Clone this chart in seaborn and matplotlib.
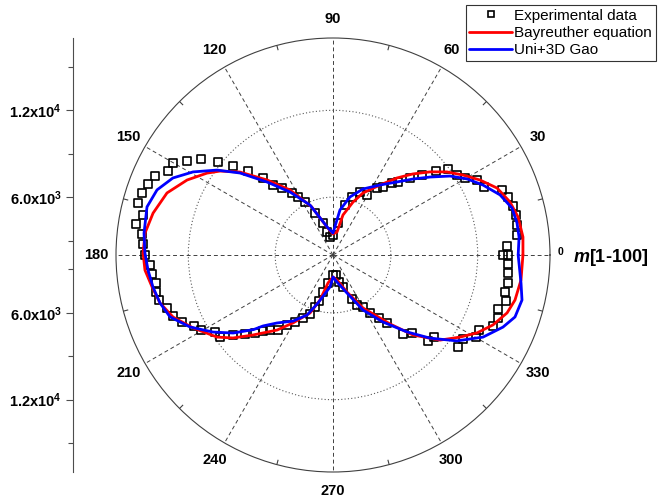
import numpy as np
import matplotlib
matplotlib.use("Agg")
import matplotlib.pyplot as plt
from matplotlib.lines import Line2D
import seaborn as sns

# ---------------- data (angle in degrees, radial value) ----------------
exp_angle = [0, 3.0, 6.2, 9.3, 12.3, 15.2, 18.3, 21.0, 24.2, 27.5, 30.3, 32.8, 36.8, 39.2, 42.0, 45.0,
             48.3, 50.7, 53.7, 56.7, 60.5, 66.8, 71.9, 76.5, 81.0, 90.0,
             99.5, 104.6, 107.4, 113.2, 117.8, 121.1, 123.5, 127.3, 130.6, 132.3, 135.3, 138.3, 141.0,
             144.0, 147.2, 150.1, 153.0, 156.1, 159.0, 162.0, 165.1, 168.1, 171.1, 173.7, 176.7, 180.0,
             183.1, 186.0, 189.0, 191.8, 194.5, 197.7, 200.9, 203.9, 207.1, 209.6, 213.1, 216.0, 218.7,
             221.9, 225.0, 227.4, 230.0, 233.7, 236.7, 240.4, 244.5, 248.7, 250.9, 253.1, 254.9, 259.9, 270.0,
             278.5, 282.5, 287.4, 293.4, 295.6, 300.0, 302.5, 306.1, 308.5, 311.5, 315.4, 317.8, 320.9,
             323.6, 327.1, 330.2, 332.8, 336.1, 339.1, 341.9, 345.1, 347.9, 350.9, 354.1, 357.1, 360.0]
exp_value = [13750, 14040, 14790, 14880, 14950, 14900, 14740, 14520, 13440, 13220, 12560, 12200, 11920, 11190,
             10270, 9530, 8750, 8430, 7830, 7540, 6770, 6740, 6220, 5550, 4240, 3380,
             3260, 3640, 4320, 5160, 6140, 6680, 7140, 7820, 8370, 9190, 10260, 11250, 12220, 13280, 14000,
             14760, 14800, 15460, 15700, 15880, 15950, 15420, 15780, 15280, 15150, 15000,
             14670, 14580, 14390, 14500, 14420, 14040, 13830, 13420, 12790, 12490, 11740, 11650, 10850,
             10180, 9620, 9140, 8770, 8430, 7790, 7320, 6820, 6380, 5800, 5320, 4650, 3960, 3380,
             3400, 3910, 4320, 5310, 5830, 6150, 6760, 7390, 8000, 9300, 9670, 10860, 10990, 12730, 12700,
             13390, 13340, 14100, 14210, 14000, 14370, 14160, 14250, 14160, 14110, 14100]

bay_angle = [0, 5.4, 11.6, 16.7, 22.2, 27.0, 31.6, 36.1, 40.6, 45.4, 50.3, 56.1, 64.2, 69.3, 76.0, 80.1,
             90.0, 102.1, 114.0, 123.5, 131.3, 138.3, 143.4, 147.0, 152.8, 159.5, 166.9, 173.3, 179.4,
             184.6, 190.0, 195.5, 201.2, 207.5, 215.3, 219.7, 225.0, 233.3, 239.5, 248.4, 253.9, 259.9,
             270.0, 279.1, 290.7, 299.5, 309.6, 315.0, 321.5, 327.1, 331.6, 336.4, 341.6, 346.1, 352.4, 360.0]
bay_value = [15130, 15190, 15060, 14770, 14250, 13410, 12550, 11750, 10830, 9870, 8920, 7830, 6760, 5910,
             4850, 3610, 3450, 3980, 5660, 7390, 8900, 10620, 11730, 12390, 13340, 14250, 14770, 15080, 15130,
             15040, 14700, 14410, 13860, 12910, 11820, 10980, 9820, 8470, 7450, 6310, 5240, 3960,
             3520, 3750, 4740, 6210, 8190, 9820, 11450, 12450, 13320, 14070, 14680, 14960, 15110, 15130]

gao_angle = [0, 5.5, 9.9, 14.7, 19.8, 25.0, 29.6, 34.0, 38.8, 43.5, 48.8, 56.1, 65.6, 73.7, 81.2, 90.0,
             100.5, 114.7, 124.3, 132.1, 138.6, 143.8, 149.3, 154.3, 159.7, 165.5, 173.4, 179.4,
             184.6, 190.1, 195.5, 200.8, 206.7, 212.7, 218.0, 223.2, 225.4, 230.5, 238.8, 246.6, 252.6,
             264.6, 270.0, 278.4, 290.2, 298.6, 306.7, 313.9, 319.4, 325.3, 331.3, 337.0, 341.2, 346.6,
             351.5, 360.0]
gao_value = [14800, 14920, 14910, 14790, 14270, 13440, 12650, 11760, 10600, 9630, 8710, 7830, 7010, 6180,
             5150, 3520, 3900, 5800, 7270, 8800, 10570, 11940, 13250, 14280, 14970, 15280, 15150, 15000,
             14830, 14640, 14410, 14050, 13070, 11860, 10760, 9530, 8890, 8090, 7340, 6520, 5480,
             4220, 3520, 3890, 4800, 6330, 7780, 9380, 10830, 12430, 13820, 14760, 15290, 15430,
             15140, 14800]

angle_ticks = [0, 30, 60, 90, 120, 150, 180, 210, 240, 270, 300, 330]
angle_labels = ["", "30", "60", "90", "120", "150", "180", "210", "240", "270", "300", "330"]
angle_minor = [15, 45, 75, 105, 135, 165, 195, 225, 255, 285, 315, 345]
r_min, r_max = 2000, 17000
r_grid = [6000, 12000]
left_major = [12000, 6000]
left_major_labels = [r"1.2x10$^4$", r"6.0x10$^3$"]
left_minor = [15000, 9000, 3000]
legend_labels = ["Experimental data", "Bayreuther equation", "Uni+3D Gao"]

# ---------------- style ----------------
sns.set_style("white")
plt.rcParams["font.family"] = ["Liberation Sans", "DejaVu Sans"]
plt.rcParams["mathtext.fontset"] = "custom"
plt.rcParams["mathtext.rm"] = "Liberation Sans:bold"
plt.rcParams["mathtext.it"] = "Liberation Sans:italic:bold"
plt.rcParams["mathtext.bf"] = "Liberation Sans:bold"
for k in ["text.color", "axes.labelcolor", "xtick.color", "ytick.color"]:
    plt.rcParams[k] = "black"

W, H = 658, 498
fig = plt.figure(figsize=(W / 100, H / 100), dpi=100)
rect = [116 / W, 26 / H, 434 / W, 434 / H]
ax = fig.add_axes(rect, projection="polar")

ax.set_ylim(r_min, r_max)

sns.scatterplot(x=np.deg2rad(exp_angle), y=exp_value, ax=ax, marker="s", s=28,
                facecolors="none", edgecolors="black", linewidth=1.2, zorder=3, legend=False)
sns.lineplot(x=np.deg2rad(bay_angle), y=bay_value, ax=ax, sort=False, color="#ff0000",
             lw=2.0, zorder=4, legend=False, estimator=None)
sns.lineplot(x=np.deg2rad(gao_angle), y=gao_value, ax=ax, sort=False, color="#0000ff",
             lw=2.0, zorder=5, legend=False, estimator=None)
ax.set_xlabel("")
ax.set_ylabel("")

# angular grid / labels
ax.set_xticks(np.deg2rad(angle_ticks))
ax.set_xticklabels(angle_labels, fontsize=10.5, fontweight="bold", color="black")
ax.tick_params(axis="x", which="both", length=0, pad=7, bottom=False, top=False)
ax.xaxis.grid(True, which="major", linestyle=(0, (4, 3)), color="0.25", lw=0.7)
# inward minor ticks on the outer circle (tick length expressed in radial units)
tick_len = (r_max - r_min) * 5 / 217
ax.vlines(np.deg2rad(angle_minor), r_max - tick_len, r_max, color="0.25", lw=0.8, zorder=2)

ax.set_yticks(r_grid)
ax.set_yticklabels([])
ax.tick_params(axis="y", left=False, right=False)
ax.yaxis.grid(True, linestyle=(0, (1, 2)), color="0.35", lw=0.8)
ax.spines["polar"].set_linewidth(0.8)
ax.spines["polar"].set_color("0.25")
ax.set_ylim(r_min, r_max)

# left radial scale (mirrored)
ax2 = fig.add_axes(rect, facecolor="none")
span = r_max - r_min
ax2.set_ylim(-span, span)
ax2.set_xlim(0, 1)
ax2.xaxis.set_visible(False)
for s in ["top", "right", "bottom"]:
    ax2.spines[s].set_visible(False)
ax2.spines["left"].set_position(("axes", -43 / 434))
ax2.spines["left"].set_color("0.3")
ax2.spines["left"].set_linewidth(0.8)
maj_pos = [v - r_min for v in left_major] + [-(v - r_min) for v in left_major]
ax2.set_yticks(maj_pos)
ax2.set_yticklabels(left_major_labels + left_major_labels, fontsize=10.5, fontweight="bold", color="black")
min_pos = [v - r_min for v in left_minor] + [-(v - r_min) for v in left_minor]
ax2.set_yticks(min_pos, minor=True)
ax2.tick_params(axis="y", which="major", left=True, direction="out", length=5, width=0.8,
                color="0.3", pad=3)
ax2.tick_params(axis="y", which="minor", left=True, direction="out", length=3.5, width=0.8,
                color="0.3")

# zero label and axis name
fig.text(561 / W, 1 - 252 / H, "0", fontsize=7.5, fontweight="bold", ha="center", va="center")
fig.text(573 / W, 1 - 257 / H, r"$m$[1-100]", fontsize=13, fontweight="bold", ha="left", va="center")

# legend
handles = [
    Line2D([], [], marker="s", ls="none", mfc="none", mec="black", ms=5, mew=1.2),
    Line2D([], [], color="#ff0000", lw=2.0),
    Line2D([], [], color="#0000ff", lw=2.0),
]
leg = fig.legend(handles, legend_labels, loc="upper right", bbox_to_anchor=(656 / W, 1 - 5 / H),
                 bbox_transform=fig.transFigure, borderaxespad=0, fancybox=False, framealpha=1,
                 edgecolor="0.2", fontsize=11, handlelength=2.8, handletextpad=0.15,
                 labelspacing=0.2, borderpad=0.25)
leg.get_frame().set_linewidth(0.8)
for t in leg.get_texts():
    t.set_color("black")

fig.savefig("out.png", dpi=100)
